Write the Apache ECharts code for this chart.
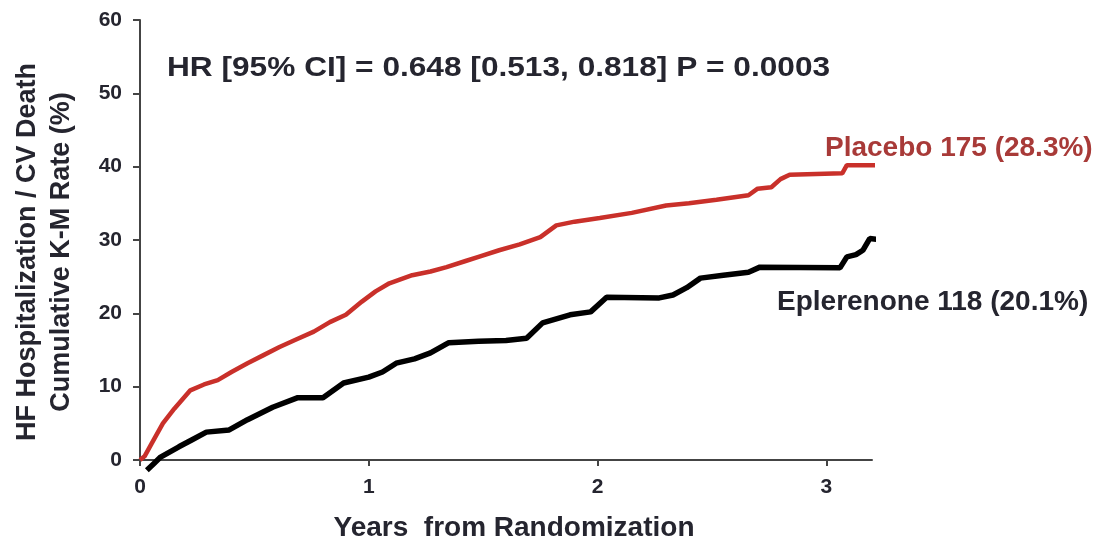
<!DOCTYPE html>
<html>
<head>
<meta charset="utf-8">
<script src="https://cdn.jsdelivr.net/npm/echarts@6/dist/echarts.min.js"></script>
<style>html,body{margin:0;padding:0;background:#fff;}#c{width:1099px;height:541px;}</style>
</head>
<body>
<div id="c"></div>
<script>
// Years from randomization and cumulative K-M rate (%)
const placeboYears = [0,0.02,0.05,0.10,0.15,0.22,0.28,0.34,0.40,0.47,0.54,0.61,0.68,0.76,0.83,0.90,0.97,1.03,1.09,1.19,1.27,1.34,1.42,1.48,1.57,1.66,1.75,1.82,1.90,2.01,2.15,2.30,2.40,2.52,2.66,2.70,2.76,2.80,2.84,3.07,3.09,3.24];
const placeboRate  = [0,0.5,2.2,5.0,7.0,9.5,10.3,10.9,12.0,13.2,14.3,15.4,16.4,17.5,18.8,19.8,21.6,23.0,24.1,25.2,25.7,26.3,27.1,27.7,28.6,29.4,30.4,32.0,32.5,33.0,33.7,34.7,35.0,35.5,36.1,37.0,37.2,38.3,38.9,39.1,40.2,40.2];
const eplerenoneYears = [0.03,0.06,0.09,0.17,0.23,0.29,0.39,0.47,0.58,0.69,0.80,0.89,1.00,1.06,1.12,1.20,1.27,1.35,1.48,1.60,1.69,1.76,1.88,1.97,2.04,2.27,2.33,2.39,2.45,2.55,2.66,2.71,3.06,3.09,3.13,3.16,3.19,3.24];
const eplerenoneRate  = [-1.4,-0.5,0.4,1.8,2.8,3.8,4.1,5.5,7.2,8.5,8.5,10.5,11.3,12.0,13.2,13.8,14.6,16.0,16.2,16.3,16.6,18.7,19.8,20.2,22.2,22.1,22.5,23.5,24.8,25.2,25.6,26.3,26.2,27.7,28.0,28.6,30.2,30.0];
const xTicks = [0,1,2,3];
const yTicks = [0,10,20,30,40,50,60];
const hrText = 'HR [95% CI] = 0.648 [0.513, 0.818] P = 0.0003';
const placeboLabel = 'Placebo 175 (28.3%)';
const eplerenoneLabel = 'Eplerenone 118 (20.1%)';
const yTitle1 = 'HF Hospitalization / CV Death';
const yTitle2 = 'Cumulative K-M Rate (%)';
const xTitle = 'Years  from Randomization';

const font = '"Liberation Sans", Arial, sans-serif';
const txt = '#25252f';
const chart = echarts.init(document.getElementById('c'));
chart.setOption({
  animation: false,
  backgroundColor: '#fff',
  grid: {left: 140, top: 20, right: 227, bottom: 81, containLabel: false},
  xAxis: {
    type: 'value', min: 0, max: 3.2, interval: 1,
    axisLine: {show: true, onZero: false, lineStyle: {color: '#444', width: 2}},
    axisTick: {show: true, length: 6, lineStyle: {color: '#444', width: 2}, customValues: xTicks},
    axisLabel: {margin: 17, fontSize: 21, fontWeight: 'bold', color: txt, fontFamily: font,
      customValues: xTicks, formatter: v => String(v)},
    splitLine: {show: false}
  },
  yAxis: {
    type: 'value', min: 0, max: 60, interval: 10,
    axisLine: {show: true, lineStyle: {color: '#444', width: 2}},
    axisTick: {show: true, length: 7, lineStyle: {color: '#444', width: 2}},
    axisLabel: {margin: 18, fontSize: 21, fontWeight: 'bold', color: txt, fontFamily: font,
      formatter: v => yTicks.includes(v) ? String(v) : ''},
    splitLine: {show: false}
  },
  series: [
    {type: 'line', name: 'Placebo', data: placeboYears.map((x, i) => [x, placeboRate[i]]),
      showSymbol: false, clip: false, lineStyle: {color: '#c9302a', width: 4.5}, z: 3},
    {type: 'line', name: 'Eplerenone', data: eplerenoneYears.map((x, i) => [x, eplerenoneRate[i]]),
      showSymbol: false, clip: false, lineStyle: {color: '#000', width: 5.5}, z: 4}
  ],
  graphic: [
    {type: 'text', x: 167, y: 68, scaleX: 1.13, style: {text: hrText, font: 'bold 28px ' + font, fill: txt, align: 'left', verticalAlign: 'middle'}},
    {type: 'text', x: 825, y: 148, style: {text: placeboLabel, font: 'bold 28px ' + font, fill: '#a83a38', align: 'left', verticalAlign: 'middle'}},
    {type: 'text', x: 777, y: 302, style: {text: eplerenoneLabel, font: 'bold 28px ' + font, fill: txt, align: 'left', verticalAlign: 'middle'}},
    {type: 'text', x: 514, y: 528, style: {text: xTitle, font: 'bold 28px ' + font, fill: txt, align: 'center', verticalAlign: 'middle'}},
    {type: 'text', x: 28, y: 252, rotation: Math.PI / 2, style: {text: yTitle1, font: 'bold 27px ' + font, fill: txt, align: 'center', verticalAlign: 'middle'}},
    {type: 'text', x: 62, y: 252, rotation: Math.PI / 2, style: {text: yTitle2, font: 'bold 27px ' + font, fill: txt, align: 'center', verticalAlign: 'middle'}}
  ]
});
</script>
</body>
</html>
